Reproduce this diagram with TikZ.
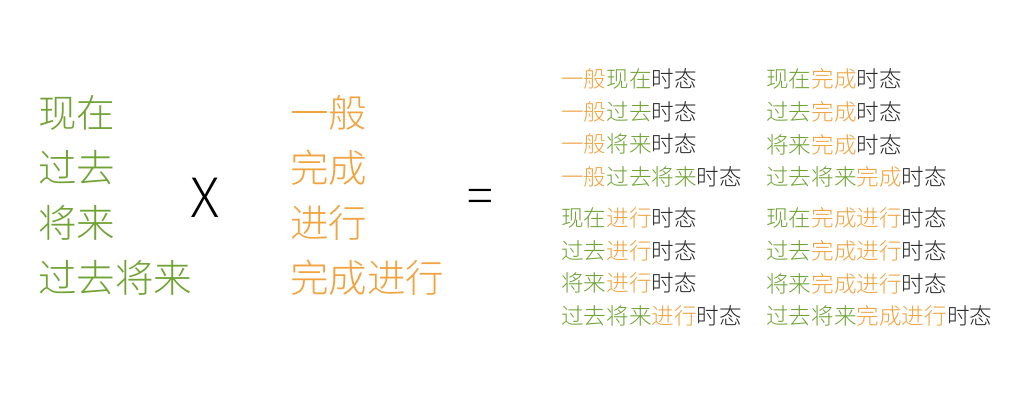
\documentclass[tikz,border=0pt]{standalone}
\usepackage{fontspec}
\setmainfont{Noto Sans CJK SC}[UprightFont=* Light]
\definecolor{tgreen}{RGB}{112,163,52}
\definecolor{torange}{RGB}{240,163,62}
\definecolor{tdark}{RGB}{40,40,40}
\newcommand{\gr}[1]{\textcolor{tgreen}{#1}}
\newcommand{\org}[1]{\textcolor{torange}{#1}}

\begin{document}
\begin{tikzpicture}[x=1pt,y=-1pt,
  bigword/.style={font=\fontsize{38.5}{38.5}\selectfont,anchor=west,inner sep=0pt},
  tense/.style={font=\fontsize{22.6}{22.6}\selectfont,anchor=west,inner sep=0pt,text=tdark}]
\useasboundingbox[fill=white] (0,0) rectangle (1023,403); %page size of the reference
%time words (green)
\node[bigword,text=tgreen] (now) at (38,113) {现在};
\node[bigword,text=tgreen] (past) at (38,168) {过去};
\node[bigword,text=tgreen] (fut) at (38,223) {将来};
\node[bigword,text=tgreen] (pastfut) at (38,278) {过去将来};
%aspect words (orange)
\node[bigword,text=torange] (simple) at (290,113) {一般};
\node[bigword,text=torange] (perf) at (290,168) {完成};
\node[bigword,text=torange] (prog) at (290,223) {进行};
\node[bigword,text=torange] (perfprog) at (290,278) {完成进行};
%operators
\node[inner sep=0pt,font=\fontsize{54}{54}\selectfont] (times) at (205,198) {X};
\node[inner sep=0pt,font=\fontsize{48}{48}\selectfont] (equals) at (480,201) {=};
%left column of tenses
\node[tense] (a1) at (561,79) {\org{一般}\gr{现在}时态};
\node[tense] (a2) at (561,111.7) {\org{一般}\gr{过去}时态};
\node[tense] (a3) at (561,144.4) {\org{一般}\gr{将来}时态};
\node[tense] (a4) at (561,177) {\org{一般}\gr{过去将来}时态};
\node[tense] (a5) at (561,218) {\gr{现在}\org{进行}时态};
\node[tense] (a6) at (561,250.7) {\gr{过去}\org{进行}时态};
\node[tense] (a7) at (561,283.4) {\gr{将来}\org{进行}时态};
\node[tense] (a8) at (561,316) {\gr{过去将来}\org{进行}时态};
%right column of tenses
\node[tense] (b1) at (766,79) {\gr{现在}\org{完成}时态};
\node[tense] (b2) at (766,111.7) {\gr{过去}\org{完成}时态};
\node[tense] (b3) at (766,144.4) {\gr{将来}\org{完成}时态};
\node[tense] (b4) at (766,177) {\gr{过去将来}\org{完成}时态};
\node[tense] (b5) at (766,218) {\gr{现在}\org{完成进行}时态};
\node[tense] (b6) at (766,250.7) {\gr{过去}\org{完成进行}时态};
\node[tense] (b7) at (766,283.4) {\gr{将来}\org{完成进行}时态};
\node[tense] (b8) at (766,316) {\gr{过去将来}\org{完成进行}时态};
\end{tikzpicture}
\end{document}
